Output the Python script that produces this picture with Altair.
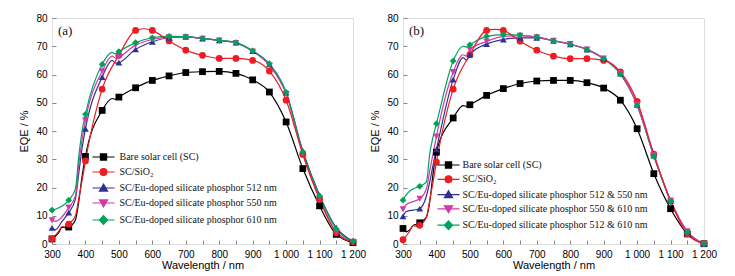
import altair as alt
import pandas as pd

# ---------------- data ----------------
WL = [300, 350, 400, 450, 500, 550, 600, 650, 700, 750, 800, 850, 900, 950, 1000, 1050, 1100, 1150, 1200]

A_NAMES = ["Bare solar cell (SC)", "SC/SiO₂",
           "SC/Eu-doped silicate phosphor 512 nm",
           "SC/Eu-doped silicate phosphor 550 nm",
           "SC/Eu-doped silicate phosphor 610 nm"]
B_NAMES = ["Bare solar cell (SC)", "SC/SiO₂",
           "SC/Eu-doped silicate phosphor 512 & 550 nm",
           "SC/Eu-doped silicate phosphor 550 & 610 nm",
           "SC/Eu-doped silicate phosphor 512 & 610 nm"]

# panel (a) marker values (EQE %, at WL)
A_BARE = [1.8, 6.0, 31.0, 47.3, 52.0, 55.3, 57.9, 59.5, 60.7, 61.0, 61.1, 60.4, 58.1, 53.8, 43.2, 26.7, 13.5, 3.4, 0.5]
A_SIO2 = [1.8, 7.0, 29.4, 54.8, 66.8, 75.6, 75.6, 71.9, 68.6, 66.8, 65.7, 65.7, 65.0, 61.2, 50.9, 31.7, 15.8, 4.0, 0.7]
A_512 = [5.7, 11.1, 40.8, 59.1, 64.2, 68.9, 71.6, 73.0, 73.3, 72.7, 72.1, 71.3, 68.3, 63.6, 53.6, 32.9, 17.3, 5.8, 1.0]
A_550 = [8.4, 12.9, 43.8, 61.2, 66.2, 70.4, 72.4, 73.2, 73.3, 72.7, 72.1, 71.2, 68.2, 63.2, 53.2, 32.0, 16.3, 4.3, 0.8]
A_610 = [12.0, 15.5, 45.9, 63.6, 68.1, 71.3, 73.0, 73.5, 73.4, 72.8, 72.1, 71.3, 68.4, 63.8, 53.7, 32.5, 17.0, 5.3, 1.0]

# extra curve readings between markers (wavelength, EQE)
A_BARE_X = [(320, 4.0), (330, 6.0), (340, 5.8), (370, 8.5), (380, 15.0), (390, 24.0), (480, 51.5), (490, 51.2)]
A_SIO2_X = [(320, 4.5), (330, 6.2), (340, 6.0), (370, 10.0), (380, 16.0), (390, 22.5), (575, 76.2)]
A_512_X = [(310, 5.0), (330, 8.0), (370, 16.0), (380, 25.0), (390, 34.0), (480, 65.0), (490, 64.0)]
A_550_X = [(310, 8.0), (370, 17.0), (380, 28.0), (390, 37.0), (480, 66.5), (490, 65.8)]
A_610_X = [(310, 12.3), (370, 19.5), (380, 31.0), (390, 40.0), (480, 67.8), (490, 67.3)]

# panel (b)
B_BARE = [5.5, 7.5, 32.5, 44.6, 49.3, 52.6, 55.0, 56.8, 57.7, 57.9, 57.9, 57.1, 55.2, 50.9, 40.8, 24.9, 12.5, 3.6, 0.1]
B_SIO2 = [1.5, 6.6, 29.0, 54.8, 67.0, 75.6, 75.6, 71.8, 68.6, 66.5, 65.6, 65.6, 65.0, 60.9, 50.5, 31.8, 15.2, 3.5, 0.1]
B_512_550 = [9.8, 12.5, 33.5, 58.2, 67.1, 70.8, 72.4, 73.0, 73.0, 71.9, 70.7, 68.8, 65.6, 60.3, 49.3, 31.3, 15.3, 4.4, 0.1]
B_550_610 = [12.3, 16.0, 38.1, 60.9, 68.8, 71.7, 73.5, 73.7, 73.2, 72.0, 70.8, 68.9, 65.7, 60.4, 49.3, 31.5, 15.4, 4.5, 0.1]
B_512_610 = [15.5, 20.4, 42.6, 64.8, 70.5, 73.5, 74.1, 73.9, 73.3, 71.9, 70.7, 68.8, 65.6, 60.1, 49.1, 31.0, 15.1, 4.2, 0.1]

B_BARE_X = [(310, 4.3), (320, 5.0), (330, 6.5), (340, 7.0), (370, 9.5), (380, 15.0), (390, 25.0), (480, 49.0), (490, 48.7)]
B_SIO2_X = [(320, 4.5), (330, 6.5), (340, 6.2), (370, 9.5), (380, 15.5), (390, 22.0), (575, 76.0)]
B_512_550_X = [(310, 11.5), (330, 12.0), (370, 17.0), (380, 22.0), (390, 28.0), (480, 66.0), (490, 65.0)]
B_550_610_X = [(310, 14.0), (330, 15.0), (370, 19.5), (380, 26.0), (390, 32.0), (480, 67.0), (490, 66.5)]
B_512_610_X = [(310, 17.5), (330, 19.5), (370, 22.0), (380, 32.0), (390, 38.0), (480, 70.0), (490, 69.7)]

COLORS = ["#000000", "#ED1C24", "#2E3192", "#D13BA8", "#00A25A"]
SHAPES = ["square", "circle", "triangle-up", "triangle-down", "diamond"]

# legend glyphs: a short line through the marker (unit = 5 px at symbol size 100)
LINE = "M-2.2,0H2.2"
LEGEND_PATHS = [
    LINE + "M-0.62,-0.62H0.62V0.62H-0.62Z",
    LINE + "M-0.68,0A0.68,0.68,0,1,0,0.68,0A0.68,0.68,0,1,0,-0.68,0Z",
    LINE + "M0,-0.78L0.82,0.62L-0.82,0.62Z",
    LINE + "M0,0.78L0.82,-0.62L-0.82,-0.62Z",
    LINE + "M0,-0.88L0.82,0L0,0.88L-0.82,0Z",
]

FONT = "Liberation Serif"


def build_frames(names, markers, extras):
    prow, lrow = [], []
    for name, vals, ext in zip(names, markers, extras):
        for w, v in zip(WL, vals):
            prow.append({"series": name, "wl": w, "eqe": v})
            lrow.append({"series": name, "wl": w, "eqe": v})
        for w, v in ext:
            lrow.append({"series": name, "wl": w, "eqe": v})
    pts = pd.DataFrame(prow)
    lines = pd.DataFrame(lrow).sort_values(["series", "wl"]).reset_index(drop=True)
    return pts, lines


def panel(tag, names, markers, extras, lx, ly, loff, rowpad):
    pts, lines = build_frames(names, markers, extras)
    cscale = alt.Scale(domain=names, range=COLORS)
    x = alt.X("wl:Q", scale=alt.Scale(domain=[300, 1200], nice=False, zero=False),
              axis=alt.Axis(values=list(range(300, 1201, 50)),
                            labelExpr="datum.value % 100 ? '' : (datum.value >= 1000 ? '1 ' + format(datum.value - 1000, '03d') : datum.value)",
                            title="Wavelength / nm", offset=-4, tickSize=4, labelPadding=5,
                            titlePadding=0, domain=False, grid=False, labelOverlap=False,
                            labelFlush=False, titleFontWeight=400))
    y = alt.Y("eqe:Q", scale=alt.Scale(domain=[0, 80], nice=False),
              axis=alt.Axis(values=list(range(0, 81, 10)), title="EQE / %", offset=-4,
                            tickSize=4, labelPadding=5, titlePadding=6, domain=False,
                            grid=False, titleFontWeight=400))
    leg = alt.Legend(orient="none", legendX=lx, legendY=ly, title=None,
                     labelFont=FONT, labelFontSize=10, labelColor="#111111",
                     symbolSize=100, symbolStrokeWidth=1.2, labelOffset=loff,
                     rowPadding=rowpad, padding=0, symbolOpacity=1,
                     labelLimit=400)
    carrier = alt.Chart(pts).mark_point(filled=True, size=0).encode(
        x=x, y=y,
        fill=alt.Fill("series:N", scale=alt.Scale(domain=names, range=COLORS), legend=leg),
        stroke=alt.Stroke("series:N", scale=alt.Scale(domain=names, range=COLORS), legend=leg),
        shape=alt.Shape("series:N", scale=alt.Scale(domain=names, range=LEGEND_PATHS), legend=leg),
    )
    line = alt.Chart(lines).mark_line(strokeWidth=1.2, interpolate="monotone").encode(
        x=x, y=y, color=alt.Color("series:N", scale=cscale, legend=None),
        order="wl:Q")
    layers = [carrier, line]
    for name, shp in zip(names, SHAPES):
        layers.append(
            alt.Chart(pts).transform_filter(alt.datum.series == name)
            .mark_point(shape=shp, filled=True, size=46, opacity=1)
            .encode(x=x, y=y, color=alt.Color("series:N", scale=cscale, legend=None))
        )
    label = alt.Chart(pd.DataFrame({"t": [tag]})).mark_text(
        font=FONT, fontSize=13, align="left", baseline="alphabetic", color="#111111"
    ).encode(text="t:N", x=alt.value(6), y=alt.value(17))
    layers.append(label)
    return alt.layer(*layers).properties(width=301, height=226)


pa = panel("(a)", A_NAMES, [A_BARE, A_SIO2, A_512, A_550, A_610],
           [A_BARE_X, A_SIO2_X, A_512_X, A_550_X, A_610_X], 45.5, 133, 10, 3)
pb = panel("(b)", B_NAMES, [B_BARE, B_SIO2, B_512_550, B_550_610, B_512_610],
           [B_BARE_X, B_SIO2_X, B_512_550_X, B_550_610_X, B_512_610_X], 39.5, 141, 8, 2.3)

chart = alt.hconcat(pa, pb, spacing=50, bounds="flush").resolve_scale(
    color="independent", fill="independent", stroke="independent", shape="independent"
).resolve_legend(
    fill="independent", stroke="independent", shape="independent"
).properties(
    padding={"left": 10, "top": 4, "right": 5, "bottom": 5}
).configure_view(stroke="#222222", strokeWidth=1).configure_axis(
    labelFont=FONT, titleFont=FONT, labelFontSize=11.5, titleFontSize=13,
    labelColor="#111111", titleColor="#111111",
    tickColor="#222222", tickWidth=1
).configure(background="white")

chart.save("out.html", embed_options={"renderer": "svg", "actions": False})
